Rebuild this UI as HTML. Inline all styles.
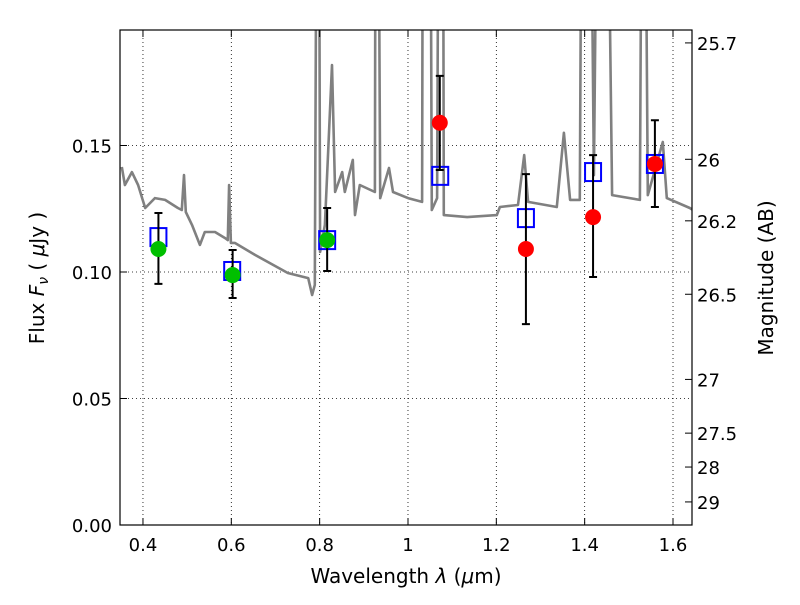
<!DOCTYPE html>
<html><head><meta charset="utf-8"><style>
body{margin:0;background:#fff;}
svg text{font-family:"DejaVu Sans","Liberation Sans",sans-serif;fill:#000;}
</style></head><body>
<svg id="chart" width="800" height="600" viewBox="0 0 800 600" xmlns="http://www.w3.org/2000/svg">
<defs><clipPath id="clip"><rect x="120" y="30" width="572" height="495"/></clipPath></defs>
<rect x="0" y="0" width="800" height="600" fill="#fff"/>
<g id="grid"></g>
<g id="plot" clip-path="url(#clip)"></g>
<g id="marks"></g>
<rect x="120" y="30" width="572" height="495" fill="none" stroke="#000" stroke-width="1.2"/>
<g id="axes"></g>
<text x="406" y="583" font-size="20" text-anchor="middle">Wavelength  <tspan font-style="italic">λ</tspan> (<tspan font-style="italic">μ</tspan>m)</text>
<text transform="translate(44,278) rotate(-90)" font-size="20" text-anchor="middle">Flux  <tspan font-style="italic">F</tspan><tspan font-style="italic" font-size="14" dy="4">ν</tspan><tspan dy="-4">  ( </tspan><tspan font-style="italic">μ</tspan>Jy )</text>
<text transform="translate(773,278) rotate(-90)" font-size="20" text-anchor="middle">Magnitude (AB)</text>
</svg>
<script>
const specLam=[0.352,0.359,0.375,0.389,0.405,0.427,0.450,0.479,0.488,0.493,0.497,0.511,0.529,0.540,0.563,0.586,0.592,0.595,0.599,0.608,0.654,0.728,0.774,0.783,0.789,0.794,0.798,0.801,0.812,0.828,0.835,0.851,0.857,0.875,0.880,0.891,0.925,0.927,0.932,0.937,0.957,0.966,1.000,1.032,1.034,1.050,1.054,1.066,1.070,1.079,1.081,1.134,1.201,1.208,1.249,1.263,1.272,1.337,1.353,1.367,1.389,1.394,1.412,1.421,1.430,1.450,1.462,1.525,1.530,1.536,1.543,1.577,1.586,1.638,1.645];
const specFlux=[0.1415,0.1344,0.1395,0.1344,0.1253,0.1292,0.1285,0.1253,0.1245,0.1383,0.1237,0.1186,0.1107,0.1158,0.1158,0.1134,0.1126,0.1344,0.1115,0.1115,0.1067,0.0996,0.0976,0.0909,0.0949,0.30,0.30,0.1079,0.1186,0.1818,0.1316,0.1395,0.1316,0.1443,0.1225,0.1344,0.1316,0.30,0.30,0.1292,0.1411,0.1316,0.1292,0.1277,0.30,0.30,0.1245,0.1292,0.30,0.30,0.1225,0.1217,0.1225,0.1257,0.1265,0.1462,0.1277,0.1257,0.155,0.1285,0.1285,0.30,0.30,0.1383,0.30,0.30,0.1304,0.1285,0.30,0.30,0.1304,0.1514,0.1292,0.1253,0.1245];
const modelLam=[0.435,0.602,0.817,1.073,1.267,1.419,1.559];
const modelFlux=[0.1138,0.1004,0.1126,0.138,0.1213,0.1395,0.1427];
const greenLam=[0.435,0.603,0.817];
const greenFlux=[0.1091,0.0988,0.1126];
const greenLo=[0.0953,0.0897,0.1004];
const greenHi=[0.1233,0.1087,0.1253];
const redLam=[1.072,1.267,1.419,1.559];
const redFlux=[0.159,0.1091,0.1217,0.1427];
const redLo=[0.1403,0.0794,0.098,0.1257];
const redHi=[0.1775,0.1387,0.1462,0.160];
const xTicks=[0.4,0.6,0.8,1.0,1.2,1.4,1.6];
const xTickLabels=["0.4","0.6","0.8","1","1.2","1.4","1.6"];
const yTicks=[0,0.05,0.10,0.15];
const yTickLabels=["0.00","0.05","0.10","0.15"];
const magTicks=[25.7,26,26.2,26.5,27,27.5,28,29];
const magTickLabels=["25.7","26","26.2","26.5","27","27.5","28","29"];

const X0=120,X1=692,Y0=525,Y1=30,LMIN=0.348,LMAX=1.643,FMIN=0,FMAX=0.19565;
const sx=l=>X0+(l-LMIN)/(LMAX-LMIN)*(X1-X0);
const sy=f=>Y0-(f-FMIN)/(FMAX-FMIN)*(Y0-Y1);
const magToFlux=m=>Math.pow(10,(23.9-m)/2.5);
const NS="http://www.w3.org/2000/svg";
function mk(tag,attrs,parent){const e=document.createElementNS(NS,tag);for(const k in attrs)e.setAttribute(k,attrs[k]);parent.appendChild(e);return e;}
const grid=document.getElementById('grid'),plot=document.getElementById('plot'),marks=document.getElementById('marks'),axes=document.getElementById('axes');

xTicks.forEach((t,i)=>{const x=sx(t);
 let g=mk('line',{x1:x,x2:x,y1:Y1,y2:Y0,stroke:'#000','stroke-width':0.8,'stroke-dasharray':'1,3'},grid);
 
 let a=mk('line',{x1:x,x2:x,y1:Y0,y2:Y0-7,stroke:'#000'},axes);
 
 let b=mk('line',{x1:x,x2:x,y1:Y1,y2:Y1+7,stroke:'#000'},axes);
 
 let tx=mk('text',{x:x,y:Y0+26,'font-size':18,'text-anchor':'middle'},axes);tx.textContent=xTickLabels[i];
 });
yTicks.forEach((t,i)=>{const y=sy(t);
 if(t>0){let g=mk('line',{x1:X0,x2:X1,y1:y,y2:y,stroke:'#000','stroke-width':0.8,'stroke-dasharray':'1,3'},grid);
 }
 let a=mk('line',{x1:X0,x2:X0+7,y1:y,y2:y,stroke:'#000'},axes);
 
 let tx=mk('text',{x:X0-8,y:y+7,'font-size':18,'text-anchor':'end'},axes);tx.textContent=yTickLabels[i];
 });
magTicks.forEach((m,i)=>{const y=sy(magToFlux(m));
 let a=mk('line',{x1:X1-7,x2:X1,y1:y,y2:y,stroke:'#000'},axes);
 
 let tx=mk('text',{x:X1+5,y:y+7,'font-size':18},axes);tx.textContent=magTickLabels[i];
 });

let pts=specLam.map((l,i)=>sx(l).toFixed(1)+','+sy(specFlux[i]).toFixed(1)).join(' ');
let sp=mk('polyline',{points:pts,fill:'none',stroke:'#808080','stroke-width':2.6,'stroke-linejoin':'round'},plot);


function errbar(l,lo,hi){const x=sx(l);
 let e=mk('path',{d:`M${x},${sy(lo)}V${sy(hi)}M${x-4},${sy(lo)}h8M${x-4},${sy(hi)}h8`,stroke:'#000','stroke-width':2,fill:'none'},marks);
 }
modelLam.forEach((l,i)=>{let r=mk('rect',{x:sx(l)-8,y:sy(modelFlux[i])-9,width:16,height:18,fill:'none',stroke:'#0000ff','stroke-width':2},marks);
 });
greenLam.forEach((l,i)=>{errbar(l,greenLo[i],greenHi[i]);
 let c=mk('circle',{cx:sx(l),cy:sy(greenFlux[i]),r:8,fill:'#00bf00'},marks);
 });
redLam.forEach((l,i)=>{errbar(l,redLo[i],redHi[i]);
 let c=mk('circle',{cx:sx(l),cy:sy(redFlux[i]),r:8,fill:'#ff0000'},marks);
 });
</script>
</body></html>
